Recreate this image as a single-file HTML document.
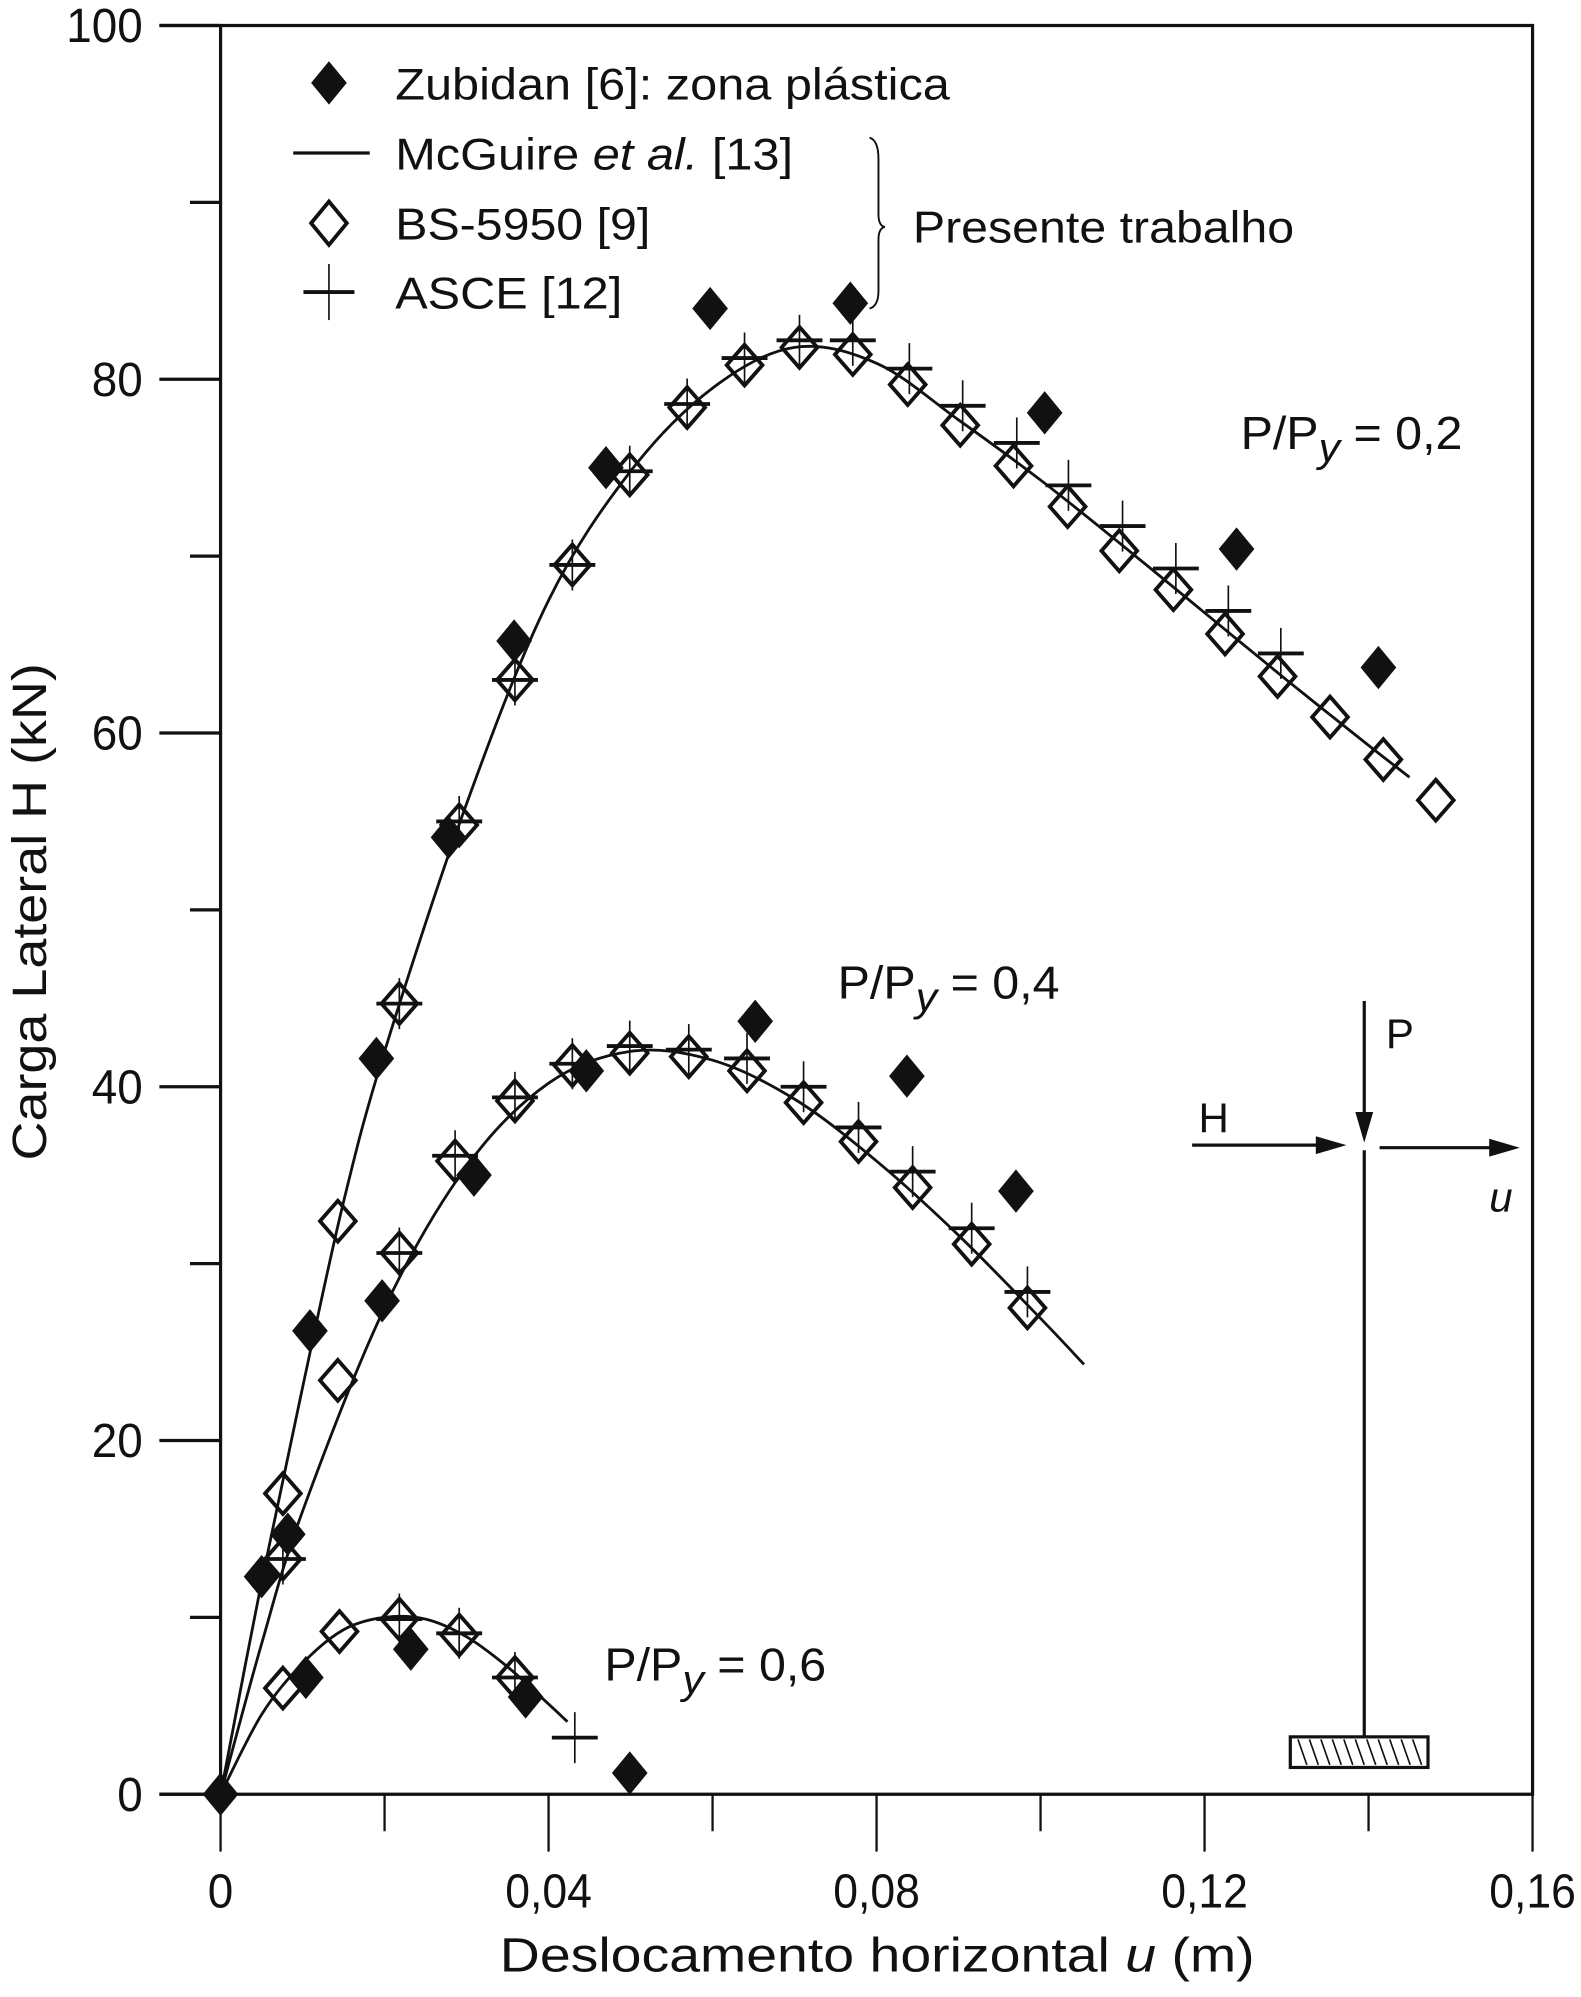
<!DOCTYPE html>
<html><head><meta charset="utf-8"><style>
html,body{margin:0;padding:0;background:#fff}
svg{display:block}
text{font-family:"Liberation Sans",sans-serif;fill:#111}
</style></head><body>
<svg id="chart" width="1581" height="1997" viewBox="0 0 1240 1566" preserveAspectRatio="none" xmlns="http://www.w3.org/2000/svg">
<g id="axes"></g>
<g id="lines"></g>
<g id="marks"></g>
<g id="legend">
  <path d="M258,48 L272,65 L258,82 L244,65Z" fill="#111"/>
  <text x="310" y="78" font-size="35" textLength="435" lengthAdjust="spacingAndGlyphs">Zubidan [6]: zona plástica</text>
  <line x1="230" y1="120" x2="290" y2="120" stroke="#111" stroke-width="2.5"/>
  <text x="310" y="133" font-size="35" textLength="312" lengthAdjust="spacingAndGlyphs">McGuire <tspan font-style="italic">et al.</tspan> [13]</text>
  <path d="M258,158 L272,175 L258,192 L244,175Z" fill="none" stroke="#111" stroke-width="3"/>
  <text x="310" y="188" font-size="35" textLength="200" lengthAdjust="spacingAndGlyphs">BS-5950 [9]</text>
  <line x1="238" y1="229" x2="278" y2="229" stroke="#111" stroke-width="3"/>
  <line x1="258" y1="207" x2="258" y2="251" stroke="#111" stroke-width="1.3"/>
  <text x="310" y="242" font-size="35" textLength="178" lengthAdjust="spacingAndGlyphs">ASCE [12]</text>
  <path d="M682,108 Q689,110 689,125 L689,168 Q689,177 694,178 Q689,179 689,188 L689,228 Q689,240 682,242" fill="none" stroke="#111" stroke-width="1.5"/>
  <text x="716" y="190" font-size="35" textLength="299" lengthAdjust="spacingAndGlyphs">Presente trabalho</text>
</g>
<g id="annot">
  <text x="973" y="352" font-size="36" textLength="174" lengthAdjust="spacingAndGlyphs">P/P<tspan font-style="italic" dy="10" font-size="32">y</tspan><tspan dy="-10"> = 0,2</tspan></text>
  <text x="657" y="783" font-size="36" textLength="174" lengthAdjust="spacingAndGlyphs">P/P<tspan font-style="italic" dy="10" font-size="32">y</tspan><tspan dy="-10"> = 0,4</tspan></text>
  <text x="474" y="1318" font-size="36" textLength="174" lengthAdjust="spacingAndGlyphs">P/P<tspan font-style="italic" dy="10" font-size="32">y</tspan><tspan dy="-10"> = 0,6</tspan></text>
</g>
<g id="diagram" stroke="#111" fill="#111">
  <line x1="1070" y1="785" x2="1070" y2="880" stroke-width="2.5"/>
  <path d="M1063,872 L1077,872 L1070,896Z" stroke="none"/>
  <line x1="1070" y1="902" x2="1070" y2="1362" stroke-width="2.5"/>
  <line x1="935" y1="898" x2="1045" y2="898" stroke-width="2.5"/>
  <path d="M1032,891 L1056,898 L1032,905Z" stroke="none"/>
  <line x1="1082" y1="900" x2="1180" y2="900" stroke-width="2.5"/>
  <path d="M1168,893 L1192,900 L1168,907Z" stroke="none"/>
  <rect x="1012" y="1362" width="108" height="24" fill="none" stroke-width="2.5"/>
  <g id="hatch" stroke-width="1.3"></g>
  <text x="1087" y="822" font-size="33" stroke="none">P</text>
  <text x="940" y="888" font-size="33" stroke="none">H</text>
  <text x="1168" y="950" font-size="33" font-style="italic" stroke="none">u</text>
</g>
</svg>
<script>
const NS='http://www.w3.org/2000/svg';
// ---- data ----
const xTicks=[0,0.04,0.08,0.12,0.16];
const xTickLabels=['0','0,04','0,08','0,12','0,16'];
const xMinorTicks=[0.02,0.06,0.10,0.14];
const yTicks=[0,20,40,60,80,100];
const yTickLabels=['0','20','40','60','80','100'];
const yMinorTicks=[10,30,50,70,90];

const zub02X=[0,0.005,0.0082,0.0109,0.019,0.0278,0.0358,0.047,0.0597,0.0768,0.1005,0.1239,0.1412];
const zub02Y=[0,12.3,14.7,26.2,41.6,54.1,65.2,75.0,84.0,84.3,78.1,70.4,63.7];
const zub04X=[0.0197,0.0309,0.0446,0.0652,0.0837,0.097];
const zub04Y=[27.9,35.0,40.9,43.7,40.6,34.1];
const zub06X=[0.0104,0.0232,0.0372,0.0499];
const zub06Y=[6.6,8.2,5.5,1.2];

const bs02X=[0.0076,0.0143,0.0218,0.0291,0.0359,0.0429,0.0499,0.0569,0.0639,0.0706,0.0771,0.0838,0.0902,0.0967,0.1033,0.1096,0.1162,0.1225,0.1289,0.1353,0.1418,0.1482];
const bs02Y=[17.0,32.4,44.7,54.8,63.0,69.5,74.6,78.4,80.8,81.8,81.4,79.7,77.4,75.1,72.8,70.3,68.1,65.6,63.2,60.9,58.5,56.2];
const bs04X=[0.0076,0.0143,0.0218,0.0286,0.0359,0.0429,0.0499,0.0571,0.0642,0.0711,0.0778,0.0844,0.0916,0.0984];
const bs04Y=[13.3,23.4,30.6,35.8,39.2,41.2,41.9,41.7,40.9,39.1,36.9,34.3,31.1,27.5];
const bs06X=[0.0076,0.0145,0.0218,0.0291,0.0359];
const bs06Y=[6.0,9.2,9.9,9.0,6.6];

const asce02X=[0.0218,0.0291,0.0359,0.0429,0.0499,0.0569,0.0639,0.0706,0.0771,0.084,0.0905,0.0971,0.1034,0.11,0.1165,0.1229,0.1293];
const asce02Y=[44.7,55.0,63.0,69.5,74.8,78.6,81.2,82.2,82.2,80.6,78.5,76.4,74.0,71.7,69.3,66.9,64.5];
const asce04X=[0.0076,0.0218,0.0286,0.0359,0.0429,0.0499,0.0571,0.0642,0.0711,0.0778,0.0844,0.0916,0.0984];
const asce04Y=[13.3,30.6,36.1,39.4,41.3,42.3,42.1,41.6,40.0,37.7,35.2,32.0,28.4];
const asce06X=[0.0218,0.0291,0.0359,0.0432];
const asce06Y=[9.9,9.1,6.6,3.2];

const mc02X=[0,0.005,0.01,0.015,0.02,0.03,0.04,0.05,0.06,0.07,0.08,0.09,0.10,0.11,0.12,0.13,0.14,0.145];
const mc02Y=[0,12,23,33.5,42,56,67.5,74.8,79.5,81.8,80.9,77.7,74.3,70.6,66.8,63.0,59.3,57.5];
const mc04X=[0,0.005,0.01,0.02,0.03,0.04,0.05,0.06,0.07,0.08,0.09,0.1,0.1053];
const mc04Y=[0,8.5,16,27.5,35.5,40.2,42.0,41.5,39.3,35.8,31.6,26.9,24.3];
const mc06X=[0,0.005,0.01,0.015,0.02,0.025,0.03,0.035,0.04,0.0423];
const mc06Y=[0,4.5,7.4,9.3,10.0,9.9,8.9,7.2,5.1,4.1];

// ---- axis functions ----
const X0=173,X1=1202,Y0=1407,Y1=20;
const sx=v=>X0+(v-0)/(0.16)*(X1-X0);
const sy=v=>Y0-(v/100)*(Y0-Y1);
const labW=s=>[...s].reduce((a,c)=>a+(c===','?8:20),0);

function mk(tag,attrs,parent){const e=document.createElementNS(NS,tag);for(const k in attrs)e.setAttribute(k,attrs[k]);parent.appendChild(e);return e;}
const axes=document.getElementById('axes');
let e;
e=mk('path',{d:`M${X0},${Y1} L${X0},${Y0} M125,${Y0} L${X1},${Y0} L${X1},${Y1} L125,${Y1}`,fill:'none',stroke:'#111','stroke-width':2.5},axes);


xTicks.forEach((t,i)=>{
  e=mk('line',{x1:sx(t),x2:sx(t),y1:Y0,y2:Y0+45,stroke:'#111','stroke-width':1.8},axes);
  
  
  e=mk('text',{x:sx(t),y:1496,'font-size':38,'text-anchor':'middle',textLength:labW(xTickLabels[i]),lengthAdjust:'spacingAndGlyphs'},axes);e.textContent=xTickLabels[i];
  
  
});
xMinorTicks.forEach(t=>{
  e=mk('line',{x1:sx(t),x2:sx(t),y1:Y0,y2:Y0+29,stroke:'#111','stroke-width':1.8},axes);
  
  
});
yTicks.forEach((t,i)=>{
  e=mk('line',{x1:125,x2:X0,y1:sy(t),y2:sy(t),stroke:'#111','stroke-width':2.5},axes);
  
  
  e=mk('text',{x:112,y:sy(t)+13,'font-size':38,'text-anchor':'end',textLength:labW(yTickLabels[i]),lengthAdjust:'spacingAndGlyphs'},axes);e.textContent=yTickLabels[i];
  
  
});
yMinorTicks.forEach(t=>{
  e=mk('line',{x1:149,x2:X0,y1:sy(t),y2:sy(t),stroke:'#111','stroke-width':2.5},axes);
  
  
});
e=mk('text',{x:688,y:1546,'font-size':38,'text-anchor':'middle',textLength:592,lengthAdjust:'spacingAndGlyphs'},axes);
e.innerHTML='Deslocamento horizontal <tspan font-style="italic">u</tspan> (m)';


e=mk('text',{x:0,y:0,'font-size':38,'text-anchor':'middle',transform:'translate(36,715) rotate(-90)',textLength:390,lengthAdjust:'spacingAndGlyphs'},axes);
e.textContent='Carga Lateral H (kN)';



// lines
const lines=document.getElementById('lines');
[[mc02X,mc02Y,'mcguire-0-2'],[mc04X,mc04Y,'mcguire-0-4'],[mc06X,mc06Y,'mcguire-0-6']].forEach(([xs,ys,n])=>{
  const pts=xs.map((x,i)=>[sx(x),sy(ys[i])]);
  let d=`M${pts[0][0]},${pts[0][1]}`;
  for(let i=0;i<pts.length-1;i++){
    const p0=pts[Math.max(i-1,0)],p1=pts[i],p2=pts[i+1],p3=pts[Math.min(i+2,pts.length-1)];
    d+=` C${p1[0]+(p2[0]-p0[0])/6},${p1[1]+(p2[1]-p0[1])/6} ${p2[0]-(p3[0]-p1[0])/6},${p2[1]-(p3[1]-p1[1])/6} ${p2[0]},${p2[1]}`;
  }
  const el=mk('path',{d,fill:'none',stroke:'#111','stroke-width':2.2},lines);
  
  
});

// markers
const marks=document.getElementById('marks');
function cross(xs,ys){xs.forEach((x,i)=>{const cx=sx(x),cy=sy(ys[i]);
  const g=mk('g',{},marks);
  
  
  mk('line',{x1:cx-18,x2:cx+18,y1:cy,y2:cy,stroke:'#111','stroke-width':3},g);
  mk('line',{x1:cx,x2:cx,y1:cy-20,y2:cy+20,stroke:'#111','stroke-width':1.3},g);});}
function open(xs,ys){xs.forEach((x,i)=>{const cx=sx(x),cy=sy(ys[i]);
  const el=mk('path',{d:`M${cx},${cy-16} L${cx+14},${cy} L${cx},${cy+16} L${cx-14},${cy}Z`,fill:'none',stroke:'#111','stroke-width':3},marks);
  
  });}
function filled(xs,ys){xs.forEach((x,i)=>{const cx=sx(x),cy=sy(ys[i]);
  const el=mk('path',{d:`M${cx},${cy-17} L${cx+14},${cy} L${cx},${cy+17} L${cx-14},${cy}Z`,fill:'#111'},marks);
  
  });}
open(bs02X,bs02Y);open(bs04X,bs04Y);open(bs06X,bs06Y);
cross(asce02X,asce02Y);cross(asce04X,asce04Y);cross(asce06X,asce06Y);
filled(zub02X,zub02Y);filled(zub04X,zub04Y);filled(zub06X,zub06Y);

// hatch
const hatch=document.getElementById('hatch');
for(let x=1018;x<=1116;x+=9){
  const el=mk('line',{x1:x,y1:1364,x2:x+7,y2:1384},hatch);
  
  
}
</script>
</body></html>
